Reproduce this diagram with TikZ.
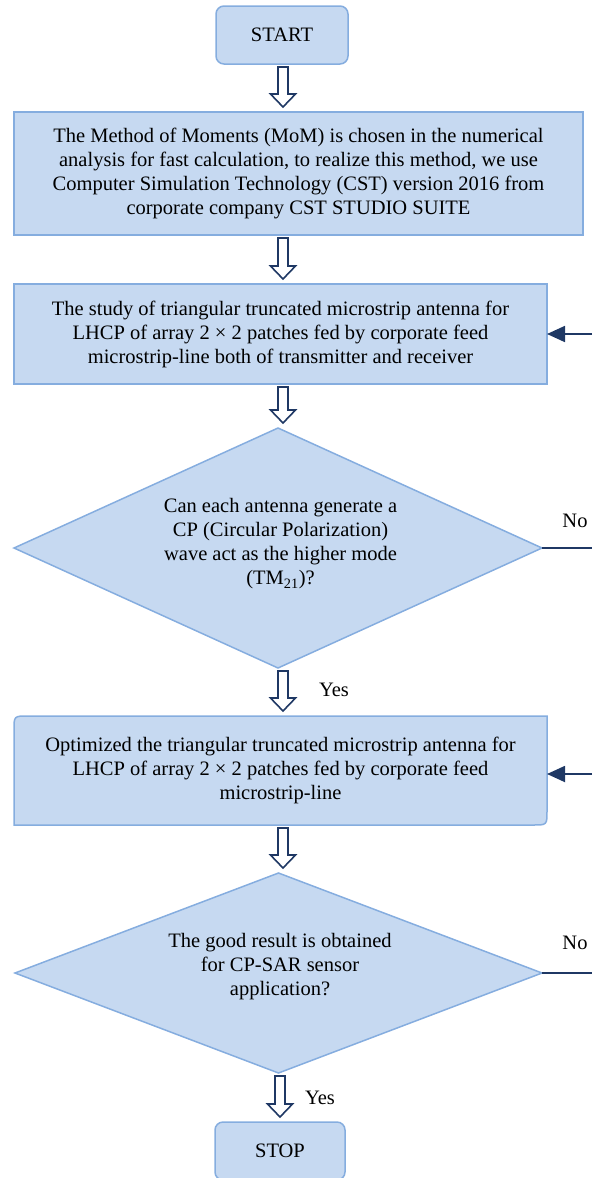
\documentclass[tikz,border=0pt]{standalone}
\usepackage{fontspec}
\setmainfont{Liberation Serif}
\usetikzlibrary{shapes.geometric,arrows.meta,calc}
\pgfdeclarelayer{background}
\pgfsetlayers{background,main}
\definecolor{boxfill}{HTML}{C6D9F1}
\definecolor{boxline}{HTML}{85ADDF}
\definecolor{navy}{HTML}{1F3864}
\tikzset{
  base/.style={fill=boxfill, draw=boxline, line width=1.5pt, inner sep=0pt, outer sep=0pt},
  txt/.style={font=\fontsize{20.5}{24}\selectfont, align=center, inner sep=0pt, outer sep=0pt},
  procbox/.style={base, rectangle, txt},
  termbox/.style={base, rectangle, rounded corners=8pt, txt},
  decbox/.style={base, diamond},
  hollow/.style={draw=navy, fill=white, line width=1.6pt, line join=miter},
  fb/.style={draw=navy, line width=1.8pt},
  fbarrow/.style={fb, -{Triangle[length=18pt,width=16pt]}},
}
\newcommand{\hollowarrow}[3]{%
  \draw[hollow] let \p1=(#1 |- #2.south), \p2=(#1 |- #3.north) in
    (\x1-5pt,\y1-3pt) -- (\x1-5pt,\y2+18pt) -- (\x1-12.5pt,\y2+18pt) --
    (\x1,\y2+5pt) -- (\x1+12.5pt,\y2+18pt) -- (\x1+5pt,\y2+18pt) --
    (\x1+5pt,\y1-3pt) -- cycle;}
\begin{document}
\begin{tikzpicture}[x=1pt,y=-1pt]
\useasboundingbox (0,0) rectangle (592,1178);
\clip (0,0) rectangle (592,1178);

\node[termbox, minimum width=132pt, minimum height=58pt] (start) at (282,35) {START};

\node[procbox, minimum width=569pt, minimum height=123pt] (b1) at (298.5,173.5)
  {The Method of Moments (MoM) is chosen in the numerical\\
   analysis for fast calculation, to realize this method, we use\\
   Computer Simulation Technology (CST) version 2016 from\\
   corporate company CST STUDIO SUITE};

\node[procbox, minimum width=533pt, minimum height=100pt] (b2) at (280.5,334)
  {The study of triangular truncated microstrip antenna for\\
   LHCP of array 2 × 2 patches fed by corporate feed\\
   microstrip-line both of transmitter and receiver};

\node[decbox, minimum width=528pt, minimum height=240pt] (d1) at (278,548) {};
\node[txt] (d1t) at (280.5,544)
  {Can each antenna generate a\\
   CP (Circular Polarization)\\
   wave act as the higher mode\\
   (TM\textsubscript{21})?};

\node[txt, minimum width=533pt, minimum height=109pt] (b3) at (280.5,770.5)
  {Optimized the triangular truncated microstrip antenna for\\
   LHCP of array 2 × 2 patches fed by corporate feed\\
   microstrip-line};
\begin{pgfonlayer}{background}
\draw[base] (b3.south west) -- ([yshift=-14pt]b3.north west)
  .. controls (b3.north west) .. ([xshift=14pt]b3.north west)
  -- (b3.north east) -- ([yshift=14pt]b3.south east)
  .. controls (b3.south east) .. ([xshift=-14pt]b3.south east) -- cycle;
\end{pgfonlayer}

\node[decbox, minimum width=527pt, minimum height=200pt] (d2) at (278.5,973) {};
\node[txt] (d2t) at (280,967)
  {The good result is obtained\\
   for CP-SAR sensor\\
   application?};

\node[termbox, minimum width=130pt, minimum height=58pt] (stop) at (280,1151) {STOP};

% hollow block arrows
\coordinate (ax) at (283,0);
\coordinate (bx) at (280,0);
\hollowarrow{ax}{start}{b1}
\hollowarrow{ax}{b1}{b2}
\hollowarrow{ax}{b2}{d1}
\hollowarrow{ax}{d1}{b3}
\hollowarrow{ax}{b3}{d2}
\hollowarrow{bx}{d2}{stop}

% labels
\node[txt] (yes1) at (334,690) {Yes};
\node[txt] (yes2) at (320,1098) {Yes};
\node[txt] (no1) at (575,521) {No};
\node[txt] (no2) at (575,943) {No};

% feedback lines
\coordinate (n1) at (592,548);
\coordinate (n2) at (592,973);
\draw[fb] (d1.east) -- (n1);
\draw[fb] (d2.east) -- (n2);
\coordinate (r2) at (592,334);
\coordinate (r3) at (592,774);
\draw[fbarrow] (r2) -- (r2 -| b2.east);
\draw[fbarrow] (r3) -- (r3 -| b3.east);
\end{tikzpicture}
\end{document}
